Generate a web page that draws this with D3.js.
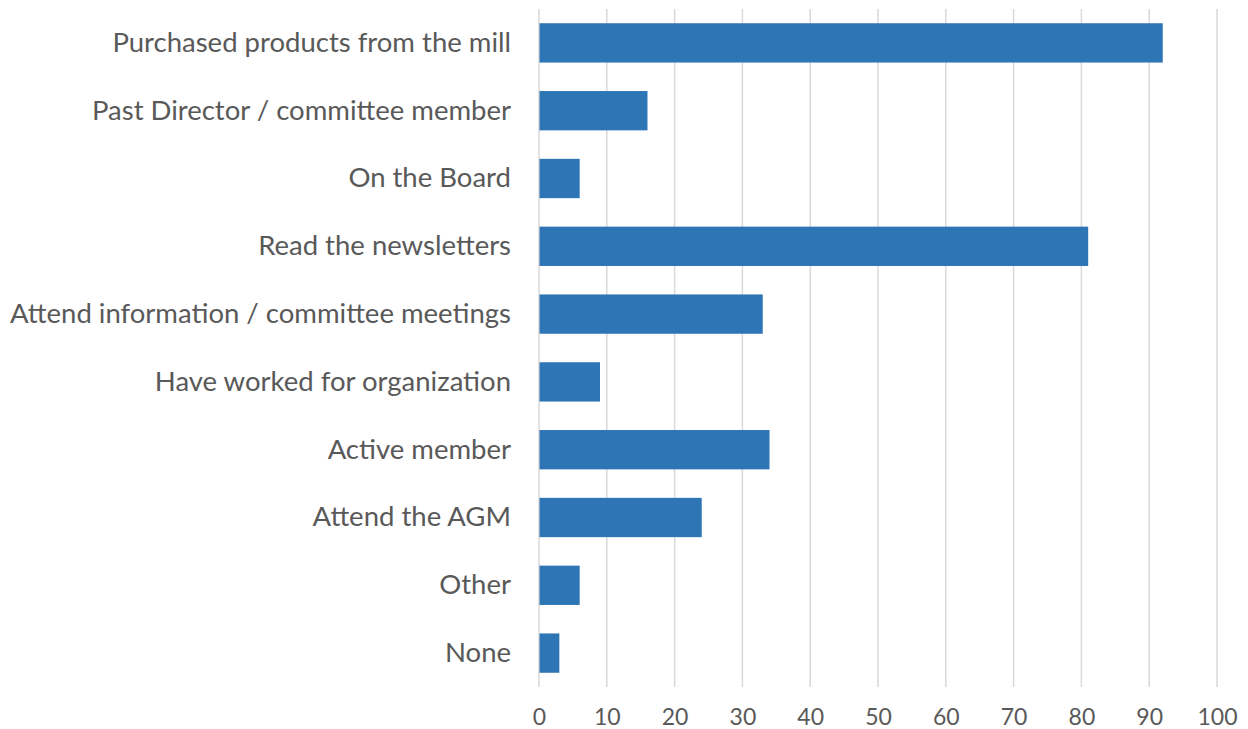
<!DOCTYPE html>
<html><head><meta charset="utf-8">
<script src="https://cdn.jsdelivr.net/npm/d3@7"></script>
<style>body{margin:0;background:#fff}svg{display:block}</style>
</head><body>
<svg id="c" width="1248" height="729"></svg>
<script>
const categories = ["Purchased products from the mill","Past Director / committee member","On the Board","Read the newsletters","Attend information / committee meetings","Have worked for organization","Active member","Attend the AGM","Other","None"];
const values = [92,16,6,81,33,9,34,24,6,3];
const xTicks = [0,10,20,30,40,50,60,70,80,90,100];

(function(){
const svg = d3.select("#c");
const mLeft = 539, mRight = 1217, mTop = 9, mBottom = 687;
const x = d3.scaleLinear().domain([0,100]).range([mLeft,mRight]);
const y = d3.scaleBand().domain(categories).range([mTop,mBottom]).paddingInner(0.42).paddingOuter(0.21);
const font = "Lato, 'Open Sans', sans-serif";

svg.append("g").selectAll("line").data(xTicks).join("line")
  .attr("x1",d=>x(d)).attr("x2",d=>x(d)).attr("y1",mTop).attr("y2",mBottom)
  .attr("stroke","#d9d9d9").attr("stroke-width",1.5);

svg.append("g").selectAll("rect").data(categories).join("rect")
  .attr("x",x(0)+0.5).attr("y",d=>y(d))
  .attr("width",(d,i)=>x(values[i])-x(0)-0.5).attr("height",y.bandwidth())
  .attr("fill","#2E75B6");

const xAxis = svg.append("g").attr("transform",`translate(0,${mBottom})`)
  .call(d3.axisBottom(x).tickValues(xTicks).tickSize(0).tickPadding(18));
xAxis.select(".domain").remove();
xAxis.selectAll("text").attr("fill","#595959").attr("font-size",23).attr("font-family",font).attr("dy","0.85em");

const yAxis = svg.append("g").attr("transform",`translate(${mLeft},0)`)
  .call(d3.axisLeft(y).tickSize(0).tickPadding(28));
yAxis.select(".domain").remove();
yAxis.selectAll("text").attr("fill","#595959").attr("font-size",27.5).attr("font-family",font);
})();
</script>
</body></html>
